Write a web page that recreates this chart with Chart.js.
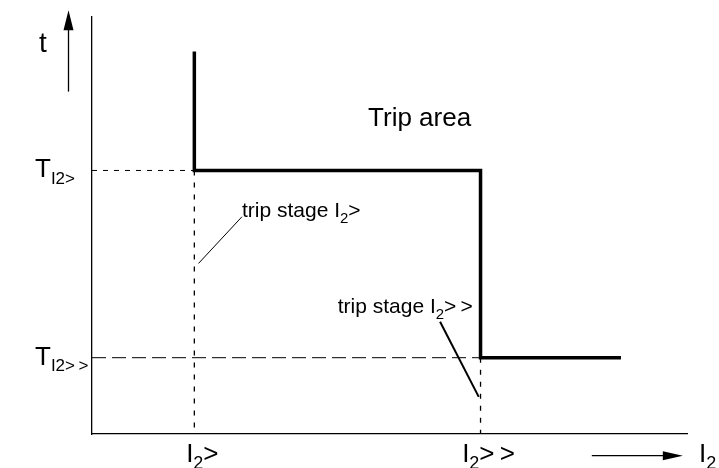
<!doctype html>
<html lang="en">

<head>
  <meta charset="utf-8">
  <title>Trip characteristic I2</title>
  <style>
    html, body { margin: 0; padding: 0; background: #fff; }
    #wrap { width: 719px; height: 468px; position: relative; }
  </style>
</head>

<body>
  <div id="wrap"><canvas id="tripChart"></canvas></div>

  <script src="https://cdn.jsdelivr.net/npm/chart.js"></script>
  <script>
    // axis units: current and time both run 0..100 (no real scale in the drawing)
    const stageI = [17.2, 65.3];          // I2>, I2>>
    const stageT = [63.2, 18.3];          // T I2>, T I2>>
    const curveX = [17.2, 17.2, 65.3, 65.3, 88.9];
    const curveT = [91.7, 63.2, 63.2, 18.3, 18.3];
    const xTickLabels = ['I_{2}>', 'I_{2}>\u2009>'];
    const yTickLabels = ['T_{I2>}', 'T_{I2>\u2009>}'];

    // leader lines for the two stage notes
    const leader1X = [17.9, 25.2], leader1T = [40.9, 52.1];
    const leader2X = [58.5, 65.0], leader2T = [26.9, 8.9];

    const FONT = '"Liberation Sans", Arial, Helvetica, sans-serif';

    function pts(xs, ys) {
      return xs.map((x, i) => ({ x: x, y: ys[i] }));
    }

    function line(data, width, dash) {
      return {
        data: data,
        showLine: true,
        borderColor: '#000',
        borderWidth: width,
        borderDash: dash || [],
        borderCapStyle: 'butt',
        borderJoinStyle: 'miter',
        pointRadius: 0,
        fill: false,
        tension: 0
      };
    }

    // split "T_{I2>}" into normal and subscript parts
    function parseRich(str, size, subSize) {
      const parts = [];
      const re = /_\{([^}]*)\}|([^_]+)/g;
      let m;
      while ((m = re.exec(str)) !== null) {
        if (m[1] !== undefined) parts.push({ t: m[1], s: subSize, dy: subSize * 0.4 });
        else parts.push({ t: m[2], s: size, dy: 0 });
      }
      return parts;
    }

    function drawRich(ctx, str, x, y, size, subSize, align) {
      const parts = parseRich(str, size, subSize);
      let total = 0;
      parts.forEach(p => {
        ctx.font = p.s + 'px ' + FONT;
        p.w = ctx.measureText(p.t).width;
        total += p.w;
      });
      let cx = x;
      if (align === 'right') cx = x - total;
      if (align === 'center') cx = x - total / 2;
      ctx.textAlign = 'left';
      ctx.textBaseline = 'alphabetic';
      parts.forEach(p => {
        ctx.font = p.s + 'px ' + FONT;
        ctx.fillText(p.t, cx, y + p.dy);
        cx += p.w;
      });
    }

    function arrowHead(ctx, tipX, tipY, dirX, dirY, len, half) {
      const bx = tipX - dirX * len, by = tipY - dirY * len;
      ctx.beginPath();
      ctx.moveTo(tipX, tipY);
      ctx.lineTo(bx - dirY * half, by + dirX * half);
      ctx.lineTo(bx + dirY * half, by - dirX * half);
      ctx.closePath();
      ctx.fill();
    }

    const labelPlugin = {
      id: 'labels',
      afterDraw(chart) {
        const ctx = chart.ctx;
        const xs = chart.scales.x, ys = chart.scales.y;
        const px = v => xs.getPixelForValue(v);
        const py = v => ys.getPixelForValue(v);
        ctx.save();
        ctx.fillStyle = '#000';
        ctx.strokeStyle = '#000';

        // tick labels
        xTickLabels.forEach((lab, i) => drawRich(ctx, lab, px(stageI[i]) + 8, py(0) + 28, 26, 18, 'center'));
        yTickLabels.forEach((lab, i) => drawRich(ctx, lab, 35, py(stageT[i]) + 7, 26, 17, 'left'));

        // axis arrows and names
        ctx.lineWidth = 1.3;
        ctx.beginPath();
        ctx.moveTo(68.5, py(82.1));
        ctx.lineTo(68.5, py(97));
        ctx.stroke();
        arrowHead(ctx, 68.5, py(101.6), 0, -1, 20, 5);
        drawRich(ctx, 't', 39, 52, 28, 18, 'left');

        ctx.beginPath();
        ctx.moveTo(px(84), py(-5.2));
        ctx.lineTo(px(97), py(-5.2));
        ctx.stroke();
        arrowHead(ctx, px(99.3), py(-5.2), 1, 0, 20, 4.5);
        drawRich(ctx, 'I_{2}', 699, 462, 26, 18, 'left');

        // notes
        drawRich(ctx, 'Trip area', px(46.4), py(73.9), 26, 18, 'left');
        drawRich(ctx, 'trip stage I_{2}>', px(25.2), py(52.1), 21, 15, 'left');
        drawRich(ctx, 'trip stage I_{2}>\u2009>', px(64.0), py(29.0), 21, 15, 'right');
        ctx.restore();
      }
    };

    const axisStyle = {
      type: 'linear',
      min: 0,
      max: 100,
      grid: { display: false, drawTicks: false },
      ticks: { display: false },
      border: { display: true, color: '#000', width: 1.3 }
    };

    new Chart(document.getElementById('tripChart'), {
      type: 'scatter',
      data: {
        datasets: [
          line(pts(curveX, curveT), 3.5),
          line(pts([0, stageI[0]], [stageT[0], stageT[0]]), 1, [5, 6]),
          line(pts([stageI[0], stageI[0]], [stageT[0], 0]), 1.3, [5, 7]),
          line(pts([0, stageI[1]], [stageT[1], stageT[1]]), 1, [14, 6]),
          line(pts([stageI[1], stageI[1]], [stageT[1], 0]), 1.3, [5, 7]),
          line(pts(leader1X, leader1T), 1),
          line(pts(leader2X, leader2T), 2)
        ]
      },
      options: {
        responsive: true,
        maintainAspectRatio: false,
        animation: false,
        layout: { padding: { left: 92, right: 32, top: 17, bottom: 34 } },
        plugins: { legend: { display: false }, tooltip: { enabled: false } },
        scales: { x: axisStyle, y: axisStyle }
      },
      plugins: [labelPlugin]
    });
  </script>
</body>

</html>
